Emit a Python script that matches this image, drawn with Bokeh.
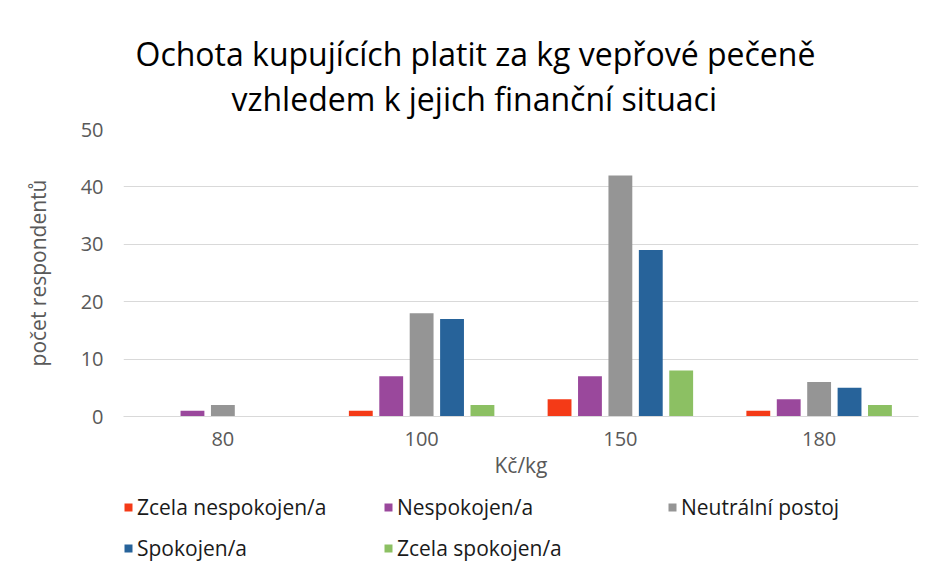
from bokeh.plotting import figure
from bokeh.layouts import column
from bokeh.models import ColumnDataSource, Range1d, FactorRange, Legend, LegendItem, Title
from bokeh.transform import dodge
from bokeh.embed import file_html
from bokeh.resources import INLINE

categories = ["80", "100", "150", "180"]
series_names = ["Zcela nespokojen/a", "Nespokojen/a", "Neutrální postoj", "Spokojen/a", "Zcela spokojen/a"]
zcela_nespokojen = [0, 1, 3, 1]
nespokojen = [1, 7, 7, 3]
neutralni = [2, 18, 42, 6]
spokojen = [0, 17, 29, 5]
zcela_spokojen = [0, 2, 8, 2]
colors = ["#F43A17", "#9A489C", "#959595", "#27639A", "#8CC063"]
title_lines = ["Ochota kupujících platit za kg vepřové pečeně", "vzhledem k jejich finanční situaci"]

FONT = "Open Sans"
keys = ["s0", "s1", "s2", "s3", "s4"]

src = ColumnDataSource(dict(cat=categories, s0=zcela_nespokojen, s1=nespokojen, s2=neutralni,
                            s3=spokojen, s4=zcela_spokojen))

x_range = FactorRange(*categories)
p = figure(width=933, height=490, x_range=x_range, y_range=Range1d(0, 50),
           output_backend="svg", toolbar_location=None, title=None,
           min_border_left=123, min_border_right=15, min_border_top=129, min_border_bottom=74)
p.outline_line_color = None

step = 0.153
width = 0.12
for i, key in enumerate(keys):
    p.vbar(x=dodge("cat", (i - 2) * step, range=x_range), top=key, width=width,
           source=src, fill_color=colors[i], line_color=None)

p.xgrid.grid_line_color = None
p.ygrid.grid_line_color = "#D9D9D9"
p.ygrid.grid_line_width = 1
p.yaxis.ticker = [0, 10, 20, 30, 40, 50]

for ax in (p.xaxis[0], p.yaxis[0]):
    ax.major_tick_line_color = None
    ax.minor_tick_line_color = None
    ax.major_tick_out = 0
    ax.major_tick_in = 0
    ax.major_label_text_font = FONT
    ax.major_label_text_color = "#595959"
    ax.major_label_text_font_size = "20px"
    ax.axis_label_text_font = FONT
    ax.axis_label_text_color = "#595959"
    ax.axis_label_text_font_size = "21px"
    ax.axis_label_text_font_style = "normal"

p.yaxis.axis_line_color = None
p.yaxis.axis_label = "počet respondentů"
p.yaxis.major_label_standoff = 20
p.yaxis.axis_label_standoff = 26
p.xaxis.axis_line_color = "#D9D9D9"
p.xaxis.axis_label = "Kč/kg"
p.xaxis.major_label_standoff = 15
p.xaxis.axis_label_standoff = 2

# Title: spacer closest to plot, then line 2, then line 1
p.add_layout(Title(text=" ", text_font_size="1px", standoff=7), "above")
p.add_layout(Title(text=title_lines[1], align="left", offset=108, text_font=FONT,
                   text_font_size="32px", text_font_style="normal", text_color="#000000",
                   standoff=0), "above")
p.add_layout(Title(text=title_lines[0], align="left", offset=12, text_font=FONT,
                   text_font_size="32px", text_font_style="normal", text_color="#000000",
                   standoff=0), "above")

# Legend panel: its own figure sharing the categorical x range; the swatch
# renderers use the same data but lie far outside this panel's y range.
lp = figure(width=933, height=74, x_range=x_range, y_range=Range1d(1000, 1001),
            x_axis_type=None, y_axis_type=None, output_backend="svg", toolbar_location=None,
            min_border_left=123, min_border_right=15, min_border_top=0, min_border_bottom=0)
lp.outline_line_color = None
lp.xgrid.grid_line_color = None
lp.ygrid.grid_line_color = None

legend_pos = [(0, 43), (260, 43), (544, 43), (0, 2), (260, 2)]
for i, key in enumerate(keys):
    swatch = lp.vbar(x=dodge("cat", (i - 2) * step, range=x_range), top=key, width=width,
                     source=src, fill_color=colors[i], line_color=None)
    lg = Legend(items=[LegendItem(label=series_names[i], renderers=[swatch])],
                location=legend_pos[i], padding=0, margin=0, spacing=0,
                border_line_color=None, background_fill_alpha=0,
                glyph_width=10, glyph_height=10, label_standoff=4, label_height=20,
                label_text_font=FONT, label_text_font_size="21px", label_text_color="#1a1a1a")
    lp.add_layout(lg, "center")

open("out.html", "w").write(file_html(column(p, lp, spacing=0), INLINE))
